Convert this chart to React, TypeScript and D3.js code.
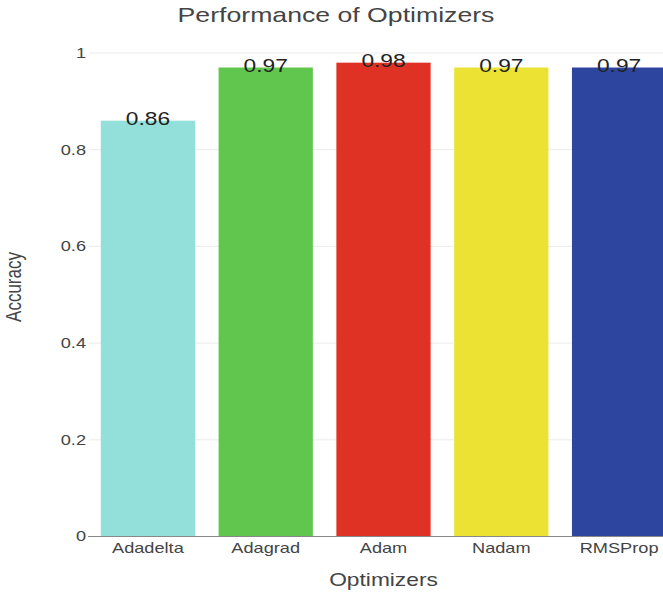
import React from "react";
import * as d3 from "d3";

const optimizers = ["Adadelta", "Adagrad", "Adam", "Nadam", "RMSProp"];
const accuracy = [0.86, 0.97, 0.98, 0.97, 0.97];
const barColors = ["#93e0da", "#61c64d", "#df3224", "#ebe233", "#2e45a0"];
const yTicks = [0, 0.2, 0.4, 0.6, 0.8, 1];

const W = 663;
const H = 593;
const FONT = "'Liberation Sans', Arial, sans-serif";
const SX = 1.3; // horizontal text stretch

const plot = { left: 89, right: 678, top: 53, bottom: 536.5 };

export default function App() {
  const x = d3
    .scaleBand<string>()
    .domain(optimizers)
    .range([plot.left, plot.right])
    .paddingInner(0.2)
    .paddingOuter(0.1);
  const y = d3.scaleLinear().domain([0, 1]).range([plot.bottom, plot.top]);
  const fmt = d3.format("~g");

  const stretched = (tx: number, ty: number, extra = "") =>
    `translate(${tx},${ty}) scale(${SX},1)${extra}`;

  return (
    <svg
      width={W}
      height={H}
      style={{ position: "fixed", left: 0, top: 0, background: "#fff" }}
      fontFamily={FONT}
    >
      {/* grid lines */}
      {yTicks
        .filter((t) => t !== 0)
        .map((t) => (
          <line
            key={`g${t}`}
            x1={plot.left}
            x2={W}
            y1={y(t)}
            y2={y(t)}
            stroke="#ebebeb"
            strokeWidth={1}
          />
        ))}

      {/* bars */}
      {optimizers.map((name, i) => (
        <rect
          key={name}
          x={x(name)}
          y={y(accuracy[i])}
          width={x.bandwidth()}
          height={y(0) - y(accuracy[i])}
          fill={barColors[i]}
        />
      ))}

      {/* zero line */}
      <line x1={plot.left - 1} x2={W} y1={y(0)} y2={y(0)} stroke="#888" strokeWidth={1.2} />

      {/* value labels */}
      {optimizers.map((name, i) => (
        <text
          key={`v${name}`}
          transform={stretched(x(name)! + x.bandwidth() / 2, y(accuracy[i]) + 4)}
          textAnchor="middle"
          fontSize={17.5}
          fill="#222"
        >
          {accuracy[i]}
        </text>
      ))}

      {/* y tick labels */}
      {yTicks.map((t) => (
        <text
          key={`yt${t}`}
          transform={stretched(86, y(t))}
          textAnchor="end"
          dy="0.35em"
          fontSize={14}
          fill="#444"
        >
          {fmt(t)}
        </text>
      ))}

      {/* x tick labels */}
      {optimizers.map((name) => (
        <text
          key={`xt${name}`}
          transform={stretched(x(name)! + x.bandwidth() / 2, 553)}
          textAnchor="middle"
          fontSize={14}
          fill="#444"
        >
          {name}
        </text>
      ))}

      {/* axis titles */}
      <text
        transform={stretched((plot.left + plot.right) / 2, 586)}
        textAnchor="middle"
        fontSize={17.5}
        fill="#444"
      >
        Optimizers
      </text>
      <text
        transform={`translate(21,287) scale(${SX},1) rotate(-90)`}
        textAnchor="middle"
        fontSize={17}
        fill="#444"
      >
        Accuracy
      </text>

      {/* title */}
      <text
        transform={stretched(336, 22)}
        textAnchor="middle"
        fontSize={20.5}
        fill="#444"
      >
        Performance of Optimizers
      </text>
    </svg>
  );
}
